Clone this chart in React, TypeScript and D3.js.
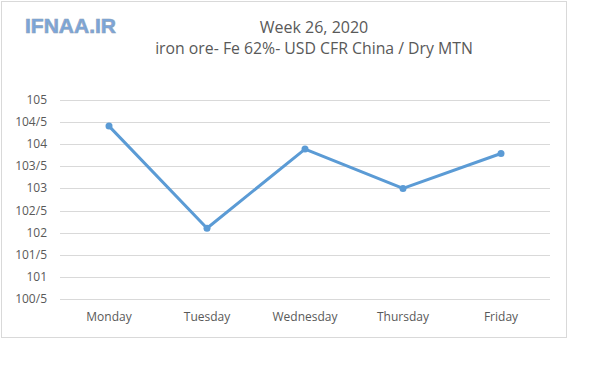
import { useRef, useEffect } from 'react';
import { select, scaleLinear, scalePoint, line } from 'd3';

// Chart data
const days = ['Monday', 'Tuesday', 'Wednesday', 'Thursday', 'Friday'];
const prices = [104.41, 102.1, 103.89, 103.0, 103.79];
const yTicks = [100.5, 101, 101.5, 102, 102.5, 103, 103.5, 104, 104.5, 105];

function App() {
    const graphRef = useRef<SVGSVGElement | null>(null);

    // Dimensions
    const width = 600;
    const height = 366;
    const left = 60;
    const right = 550;
    const top = 100;
    const bottom = 299;

    // Scales
    const x = scalePoint<string>().domain(days).range([left, right]).padding(0.5);
    const y = scaleLinear().domain([100.5, 105]).range([bottom, top]);

    useEffect(() => {
        const graph = select(graphRef.current);
        graph.selectAll('*').remove();
        const font = '"Open Sans", sans-serif';

        // Outer frame
        graph
            .append('rect')
            .attr('x', 1.5)
            .attr('y', 1.5)
            .attr('width', 565)
            .attr('height', 336)
            .attr('fill', 'white')
            .attr('stroke', '#d9d9d9');

        // Logo
        graph
            .append('text')
            .text('IFNAA.IR')
            .attr('x', 25)
            .attr('y', 33)
            .attr('font-family', '"Liberation Sans", Arial, sans-serif')
            .attr('font-weight', 'bold')
            .attr('font-size', 21)
            .attr('fill', '#7aa6dc')
            .attr('stroke', '#8fa3bb')
            .attr('stroke-width', 0.7);

        // Titles
        graph
            .append('text')
            .text('Week 26, 2020')
            .attr('x', 314)
            .attr('y', 33)
            .attr('text-anchor', 'middle')
            .attr('font-family', font)
            .attr('font-size', 16)
            .attr('fill', '#595959');
        graph
            .append('text')
            .text('iron ore- Fe 62%- USD CFR China / Dry MTN')
            .attr('x', 314)
            .attr('y', 54)
            .attr('text-anchor', 'middle')
            .attr('font-family', font)
            .attr('font-size', 15.8)
            .attr('fill', '#595959');

        // Gridlines
        graph
            .append('g')
            .selectAll('line')
            .data(yTicks)
            .join('line')
            .attr('x1', left)
            .attr('x2', right)
            .attr('y1', (d) => Math.round(y(d)) + 0.5)
            .attr('y2', (d) => Math.round(y(d)) + 0.5)
            .attr('stroke', '#d9d9d9')
            .attr('stroke-width', 1);

        // Y labels
        graph
            .append('g')
            .selectAll('text')
            .data(yTicks)
            .join('text')
            .text((d) => String(d).replace('.', '/'))
            .attr('x', 47)
            .attr('y', (d) => y(d) + 4)
            .attr('text-anchor', 'end')
            .attr('font-family', font)
            .attr('font-size', 12)
            .attr('fill', '#595959');

        // X labels
        graph
            .append('g')
            .selectAll('text')
            .data(days)
            .join('text')
            .text((d) => d)
            .attr('x', (d) => x(d) as number)
            .attr('y', 321)
            .attr('text-anchor', 'middle')
            .attr('font-family', font)
            .attr('font-size', 12)
            .attr('fill', '#595959');

        // Price line
        const path = line<number>()
            .x((d, i) => x(days[i]) as number)
            .y((d) => y(d));
        graph
            .append('path')
            .datum(prices)
            .attr('d', path)
            .attr('fill', 'none')
            .attr('stroke', '#5b9bd5')
            .attr('stroke-width', 3)
            .attr('stroke-linejoin', 'round');

        // Markers
        graph
            .append('g')
            .selectAll('circle')
            .data(prices)
            .join('circle')
            .attr('cx', (d, i) => x(days[i]) as number)
            .attr('cy', (d) => y(d))
            .attr('r', 3.5)
            .attr('fill', '#5b9bd5');
    }, []);

    return (
        <svg
            ref={graphRef}
            width={width}
            height={height}
            style={{ position: 'absolute', left: 0, top: 0, background: 'white' }}
        ></svg>
    );
}

export default App;
